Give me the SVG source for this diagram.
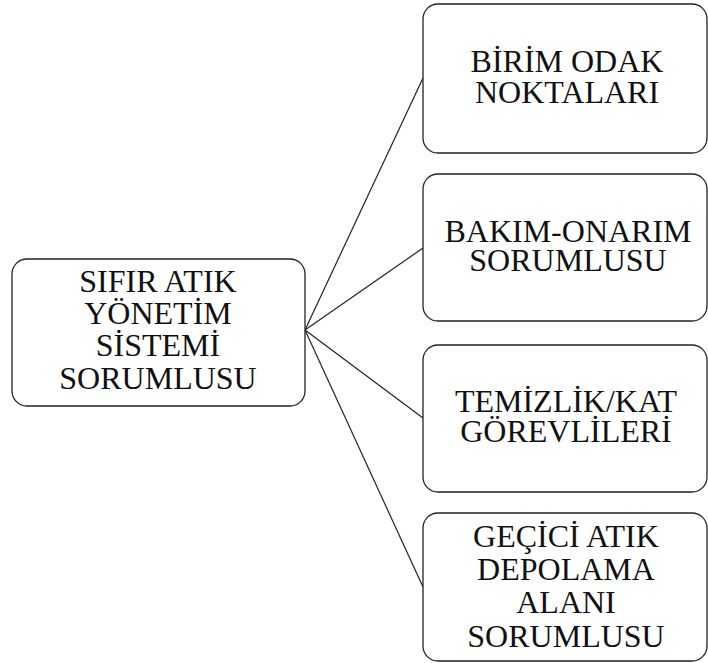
<svg xmlns="http://www.w3.org/2000/svg" width="708" height="663" viewBox="0 0 708 663">
<style>
.box{fill:#fff;stroke:#222;stroke-width:1.3}
.lbl{font-family:"Liberation Serif","Times New Roman",serif;font-size:32px;fill:#111;text-anchor:middle}
.con{stroke:#222;stroke-width:1.2;fill:none}
</style>
<rect width="708" height="663" fill="#fff"/>
<g id="connectors">
<line class="con" x1="305" y1="330" x2="423" y2="78"/>
<line class="con" x1="305" y1="330" x2="423" y2="248"/>
<line class="con" x1="305" y1="330" x2="423" y2="418"/>
<line class="con" x1="305" y1="330" x2="423" y2="587"/>
</g>
<g id="root">
<rect class="box" x="12" y="259" width="293" height="147" rx="15"/>
<text class="lbl" x="158" y="292">SIFIR ATIK</text>
<text class="lbl" x="158" y="324">YÖNETİM</text>
<text class="lbl" x="158" y="356">SİSTEMİ</text>
<text class="lbl" x="158" y="389">SORUMLUSU</text>
</g>
<g id="n1">
<rect class="box" x="423" y="4" width="284" height="149" rx="15"/>
<text class="lbl" x="567" y="72">BİRİM ODAK</text>
<text class="lbl" x="567" y="103">NOKTALARI</text>
</g>
<g id="n2">
<rect class="box" x="423" y="174" width="284" height="147" rx="15"/>
<text class="lbl" x="568" y="242">BAKIM-ONARIM</text>
<text class="lbl" x="568" y="271">SORUMLUSU</text>
</g>
<g id="n3">
<rect class="box" x="423" y="345" width="284" height="147" rx="15"/>
<text class="lbl" x="566" y="412">TEMİZLİK/KAT</text>
<text class="lbl" x="566" y="442">GÖREVLİLERİ</text>
</g>
<g id="n4">
<rect class="box" x="423" y="513" width="284" height="148" rx="15"/>
<text class="lbl" x="566" y="547">GEÇİCİ ATIK</text>
<text class="lbl" x="566" y="580">DEPOLAMA</text>
<text class="lbl" x="566" y="613">ALANI</text>
<text class="lbl" x="566" y="647">SORUMLUSU</text>
</g>
</svg>
